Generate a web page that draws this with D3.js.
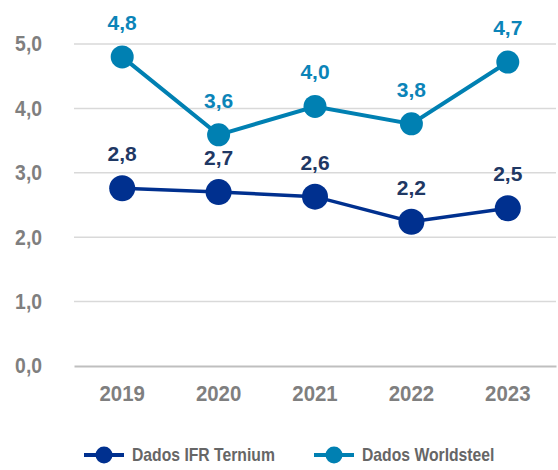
<!DOCTYPE html>
<html>
<head>
<meta charset="utf-8">
<script src="https://cdn.jsdelivr.net/npm/d3@7"></script>
<style>
  body { margin: 0; background: #fff; }
  svg text { font-family: "Liberation Sans", Arial, sans-serif; font-weight: bold; }
</style>
</head>
<body>
<div id="chart"></div>
<script>
// chart data
const years = ['2019', '2020', '2021', '2022', '2023'];
const terniumValues = [2.76, 2.70, 2.63, 2.24, 2.45];
const terniumLabels = ['2,8', '2,7', '2,6', '2,2', '2,5'];
const worldsteelValues = [4.80, 3.59, 4.03, 3.76, 4.72];
const worldsteelLabels = ['4,8', '3,6', '4,0', '3,8', '4,7'];
const yTicks = [0, 1, 2, 3, 4, 5];

const width = 558, height = 470;
const margin = { top: 44, right: 2, bottom: 104, left: 74 };
const innerW = width - margin.left - margin.right;
const innerH = height - margin.top - margin.bottom;

const svg = d3.select('#chart').append('svg')
    .attr('width', width)
    .attr('height', height);

const g = svg.append('g')
    .attr('transform', `translate(${margin.left},${margin.top})`);

const x = d3.scaleBand()
    .domain(years)
    .range([0, innerW]);

const y = d3.scaleLinear()
    .domain([0, 5])
    .range([innerH, 0]);

// gridlines
g.append('g')
    .selectAll('line')
    .data(yTicks.filter(d => d > 0))
    .join('line')
    .attr('x1', 0)
    .attr('x2', innerW)
    .attr('y1', d => y(d))
    .attr('y2', d => y(d))
    .attr('stroke', '#d9d9d9')
    .attr('stroke-width', 1.5);

// y axis labels (a bit narrower, like the original font)
const yAxis = g.append('g')
    .call(d3.axisLeft(y).tickValues(yTicks).tickSize(0).tickPadding(32)
        .tickFormat(d => d3.format('.1f')(d).replace('.', ',')));
yAxis.select('.domain').remove();
yAxis.selectAll('text')
    .attr('fill', '#7f7f7f')
    .attr('x', -32 / 0.9)
    .attr('transform', 'scale(0.9,1)')
    .style('font-size', '21.5px');

// x axis
const xAxis = g.append('g')
    .attr('transform', `translate(0,${innerH})`)
    .call(d3.axisBottom(x).tickSize(0).tickPadding(20));
xAxis.select('.domain')
    .attr('stroke', '#bfbfbf')
    .attr('stroke-width', 2);
xAxis.selectAll('text')
    .attr('fill', '#7f7f7f')
    .attr('transform', 'scale(0.95,1)')
    .style('font-size', '21.5px');

const cx = d => x(d) + x.bandwidth() / 2;

const series = [
    { name: 'Dados IFR Ternium', values: terniumValues, labels: terniumLabels, color: '#00308f', labelColor: '#1f3864', r: 13, lw: 3.5 },
    { name: 'Dados Worldsteel', values: worldsteelValues, labels: worldsteelLabels, color: '#0080b2', labelColor: '#0b84b8', r: 11.5, lw: 4 }
];

series.forEach(s => {
    const pts = years.map((yr, i) => ({ year: yr, value: s.values[i], label: s.labels[i] }));

    const line = d3.line()
        .x(d => cx(d.year))
        .y(d => y(d.value));

    g.append('path')
        .datum(pts)
        .attr('fill', 'none')
        .attr('stroke', s.color)
        .attr('stroke-width', s.lw)
        .attr('d', line);

    g.append('g')
        .selectAll('circle')
        .data(pts)
        .join('circle')
        .attr('cx', d => cx(d.year))
        .attr('cy', d => y(d.value))
        .attr('r', s.r)
        .attr('fill', s.color);

    g.append('g')
        .selectAll('text')
        .data(pts)
        .join('text')
        .attr('x', d => cx(d.year))
        .attr('y', d => y(d.value) - 27)
        .attr('text-anchor', 'middle')
        .attr('fill', s.labelColor)
        .style('font-size', '21px')
        .text(d => d.label);
});

// legend
const legendX = [84, 314];
const legend = svg.append('g').attr('transform', 'translate(0,455)');
series.forEach((s, i) => {
    const lg = legend.append('g').attr('transform', `translate(${legendX[i]},0)`);
    lg.append('line')
        .attr('x1', 0).attr('x2', 40)
        .attr('y1', 0).attr('y2', 0)
        .attr('stroke', s.color)
        .attr('stroke-width', 4);
    lg.append('circle')
        .attr('cx', 20).attr('cy', 0)
        .attr('r', 8.5)
        .attr('fill', s.color);
    lg.append('text')
        .attr('transform', 'translate(48,0) scale(0.85,1)')
        .attr('dy', '0.35em')
        .attr('fill', '#666666')
        .style('font-size', '18.5px')
        .text(s.name);
});
</script>
</body>
</html>
